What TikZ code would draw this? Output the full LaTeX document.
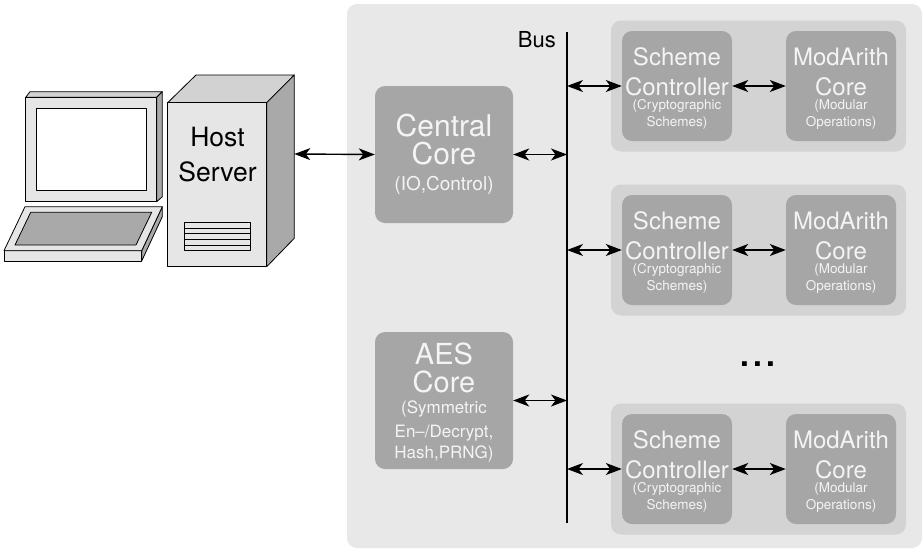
\documentclass[tikz,border=0pt]{standalone}
\usepackage{fontspec}
\setmainfont{TeX Gyre Heros}
\usetikzlibrary{arrows.meta}

\definecolor{panelbg}{HTML}{E8E8E8}
\definecolor{groupbg}{HTML}{D3D3D3}
\definecolor{corebg}{HTML}{A6A6A6}
\definecolor{coretext}{HTML}{F4F4F4}
\definecolor{facelight}{HTML}{E6E6E6}
\definecolor{facemid}{HTML}{D2D2D2}
\definecolor{facedark}{HTML}{A9A9A9}

\tikzset{
  core/.style={fill=corebg, rounded corners=10pt, text=coretext, align=center,
    inner sep=0pt},
  bigcore/.style={core, minimum width=138pt, minimum height=137pt},
  smallcore/.style={core, minimum width=110pt, minimum height=110pt,
    font=\fontsize{24}{30}\selectfont},
  group/.style={fill=groupbg, rounded corners=10pt, inner sep=0pt,
    minimum width=295pt, minimum height=131pt},
  tip/.tip={Stealth[length=16pt,width=12pt,inset=4.5pt]},
  link/.style={line width=1.4pt, tip-tip},
  hw/.style={draw=black, line width=0.8pt, line join=round},
}
\newcommand{\subtext}[1]{{\fontsize{13.5}{13.5}\selectfont #1}}
\newcommand{\aestext}[1]{{\fontsize{17}{17}\selectfont #1}}

\begin{document}
\begin{tikzpicture}[x=1pt,y=-1pt]
\useasboundingbox (0,0) rectangle (923,549);

% ---- workstation: monitor ----
\draw[hw, fill=facemid] (25.7,97.3) -- (30,91.7) -- (162.3,91.7) -- (156.7,97.3) -- cycle;
\draw[hw, fill=facedark] (156.7,97.3) -- (162.3,91.7) -- (162.3,196.7) -- (156.7,201.7) -- cycle;
\draw[hw, fill=facelight] (25.7,97.3) rectangle (156.7,201.7);
\draw[hw, fill=white] (36.7,108.3) rectangle (146.7,190);

% ---- workstation: keyboard ----
\draw[hw, fill=facedark] (141.7,250.7) -- (162.3,206.7) -- (162.3,216.7) -- (141.7,261) -- cycle;
\draw[hw, fill=facelight] (4,250.7) rectangle (141.7,261);
\draw[hw, fill=facelight] (4,250.7) -- (25,206.7) -- (162.3,206.7) -- (141.7,250.7) -- cycle;
\draw[hw, fill=facedark] (15,245) -- (30.7,212.3) -- (151.7,212.3) -- (136,245) -- cycle;

% ---- host server tower ----
\draw[hw, fill=facemid] (167.7,102.7) -- (196,75) -- (294.3,75) -- (266.7,102.7) -- cycle;
\draw[hw, fill=facedark] (266.7,102.7) -- (294.3,75) -- (294.3,238.3) -- (266.7,266.7) -- cycle;
\node[hw, fill=facelight, minimum width=99pt, minimum height=164pt, inner sep=0pt]
  (tower) at (217.2,184.7) {};
\node[align=center, font=\fontsize{26.5}{35}\selectfont] (hostlabel) at (217.5,154.5) {Host\\Server};
\draw[hw, fill=facelight] (184.3,222.3) rectangle (250,250.7);
\foreach \yy in {228,233.7,239.4,245}
  \draw[line width=0.8pt] (184.3,\yy) -- (250,\yy);
\coordinate (port) at (294.3,154);

% ---- accelerator panel ----
\fill[panelbg, rounded corners=10pt] (347,4) rectangle (922,548);

% bus
\coordinate (bustop) at (567,32);
\coordinate (busbot) at (567,523);
\draw[line width=1.2pt] (bustop) -- (busbot);
\node[anchor=east, inner sep=0pt, font=\fontsize{22}{22}\selectfont] (buslabel) at (556,40) {Bus};

% central and AES cores (an empty first row nudges the text block down)
\node[bigcore, font=\fontsize{30}{28}\selectfont] (central) at (444,154.5)
  {Central\\Core\\[-2pt]{\fontsize{19}{19}\selectfont (IO,Control)}};
\node[bigcore, font=\fontsize{29}{28}\selectfont] (aes) at (444,400.5)
  {{}\\[-2pt]AES\\Core\\[-7pt]\aestext{(Symmetric}\\[-4pt]\aestext{En–/Decrypt,}\\[-7pt]\aestext{Hash,PRNG)}};

% crypto groups
\foreach \name/\cy in {one/86, two/250, three/469}{
  \node[group] (g\name) at (758.5,\cy) {};
  \node[smallcore] (sc\name) at (677,\cy)
    {{}\\[-7pt]Scheme\\Controller\\[-16pt]\subtext{(Cryptographic}\\[-12.5pt]\subtext{Schemes)}};
  \node[smallcore] (ma\name) at (841,\cy)
    {{}\\[-7pt]ModArith\\Core\\[-16pt]\subtext{(Modular}\\[-12.5pt]\subtext{Operations)}};
  \draw[link] (bustop |- sc\name.west) -- (sc\name.west);
  \draw[link] (sc\name.east) -- (ma\name.west);
}

\node[anchor=base, inner sep=0pt, font=\fontsize{46}{46}\selectfont] (dots) at (758,366) {...};

% links from host and cores to the bus
\draw[link] (port) -- (central.west);
\draw[link] (central.east) -- (central.east -| bustop);
\draw[link] (aes.east) -- (aes.east -| bustop);
\end{tikzpicture}
\end{document}
